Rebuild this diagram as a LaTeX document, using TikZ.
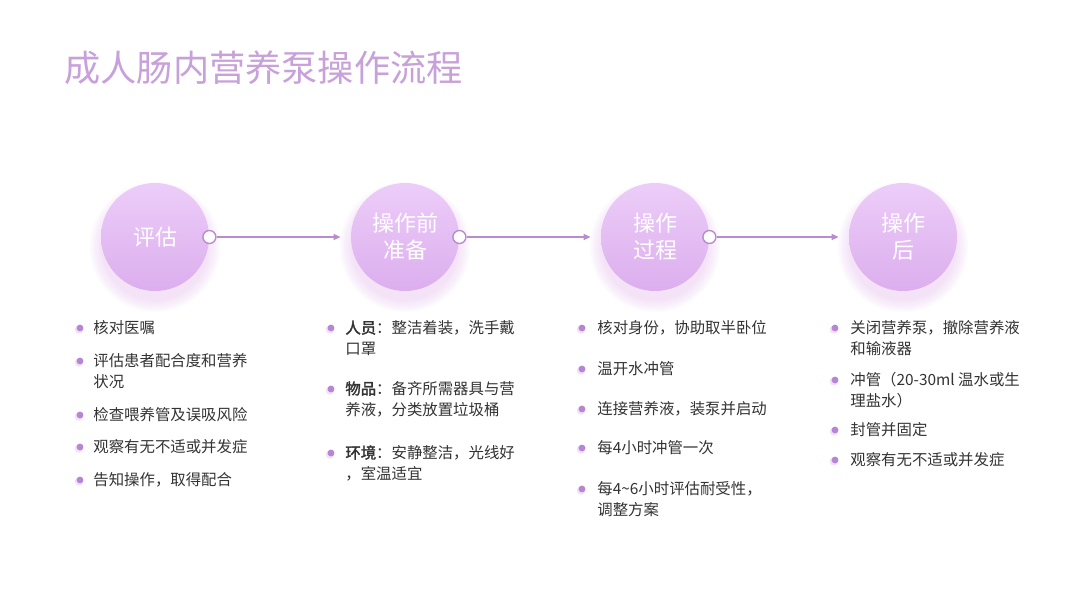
\documentclass[tikz,border=0pt]{standalone}
\usepackage{fontspec}
\setmainfont{Noto Sans CJK SC}[AutoFakeBold=2]
\usetikzlibrary{arrows.meta}

\definecolor{titlepurple}{HTML}{C8A0DA}
\definecolor{balltop}{HTML}{ECCDF8}
\definecolor{ballbottom}{HTML}{DCAEEE}
\definecolor{glow}{HTML}{E7B8F0}
\definecolor{linepurple}{HTML}{B98BCF}
\definecolor{dotpurple}{HTML}{B685D3}
\definecolor{bodytext}{HTML}{333333}

\tikzset{
  stage/.style={circle, minimum size=54pt, inner sep=0pt, top color=balltop,
    bottom color=ballbottom, text=white, align=center,
    font=\fontsize{11}{13.5}\selectfont},
  port/.style={circle, draw=linepurple, line width=0.7pt, fill=white,
    minimum size=6.5pt, inner sep=0pt},
  flow/.style={draw=linepurple, line width=0.7pt, -{Triangle[length=3.5pt,width=3pt]}},
  dot/.style={circle, fill=dotpurple, minimum size=3.4pt, inner sep=0pt},
  point/.style={anchor=north west, inner sep=0pt, align=left, text=bodytext,
    font=\fontsize{7.7}{10.7}\selectfont}
}

\begin{document}
\begin{tikzpicture}[x=0.5pt,y=-0.5pt]
\useasboundingbox (0,0) rectangle (1080,608);
\fill[white] (0,0) rectangle (1080,608);

% title
\node[anchor=west, inner sep=0pt, text=titlepurple, font=\fontsize{18.1}{20}\selectfont]
  (title) at (64,68) {成人肠内营养泵操作流程};

% the four stages, with a soft glow under each ball
\foreach \n/\x/\txt in {1/155/评估, 2/405/{操作前\\准备}, 3/655/{操作\\过程}, 4/903/{操作\\后}} {
  \foreach \k in {0,...,7}
    \fill[glow, opacity=0.05] (\x,247) circle (54+\k*1.6);
  \node[stage] (s\n) at (\x,237) {\txt};
}

% connectors
\foreach \n in {1,2,3}
  \node[port] (p\n) at (s\n.east) {};
\draw[flow] (p1.east) -- ([xshift=-5pt]s2.west);
\draw[flow] (p2.east) -- ([xshift=-5pt]s3.west);
\draw[flow] (p3.east) -- ([xshift=-5pt]s4.west);

% column 1
\foreach \y/\txt [count=\i] in {328/核对医嘱, 361/{评估患者配合度和营养\\状况},
    415/检查喂养管及误吸风险, 447/观察有无不适或并发症, 480/告知操作，取得配合} {
  \fill[glow, opacity=0.45] (79,\y+1.5) circle (4.2);
  \node[dot] (ba\i) at (80,\y) {};
  \node[point] (ta\i) at (93,\y-8) {\txt};
}

% column 2
\foreach \y/\txt [count=\i] in {328/{\textbf{人员}：整洁着装，洗手戴\\口罩},
    389/{\textbf{物品}：备齐所需器具与营\\养液，分类放置垃圾桶},
    453/{\textbf{环境}：安静整洁，光线好\\，室温适宜}} {
  \fill[glow, opacity=0.45] (330,\y+1.5) circle (4.2);
  \node[dot] (bb\i) at (331,\y) {};
  \node[point] (tb\i) at (345,\y-8) {\txt};
}

% column 3
\foreach \y/\txt [count=\i] in {328/核对身份，协助取半卧位, 369/温开水冲管,
    409/连接营养液，装泵并启动, 448/每4小时冲管一次,
    489/{每4\textasciitilde6小时评估耐受性，\\调整方案}} {
  \fill[glow, opacity=0.45] (581,\y+1.5) circle (4.2);
  \node[dot] (bc\i) at (582,\y) {};
  \node[point] (tc\i) at (597,\y-8) {\txt};
}

% column 4
\foreach \y/\txt [count=\i] in {328/{关闭营养泵，撤除营养液\\和输液器},
    380/{冲管（20-30ml 温水或生\\理盐水）}, 430/封管并固定, 460/观察有无不适或并发症} {
  \fill[glow, opacity=0.45] (834,\y+1.5) circle (4.2);
  \node[dot] (bd\i) at (835,\y) {};
  \node[point] (td\i) at (850,\y-8) {\txt};
}
\end{tikzpicture}
\end{document}
